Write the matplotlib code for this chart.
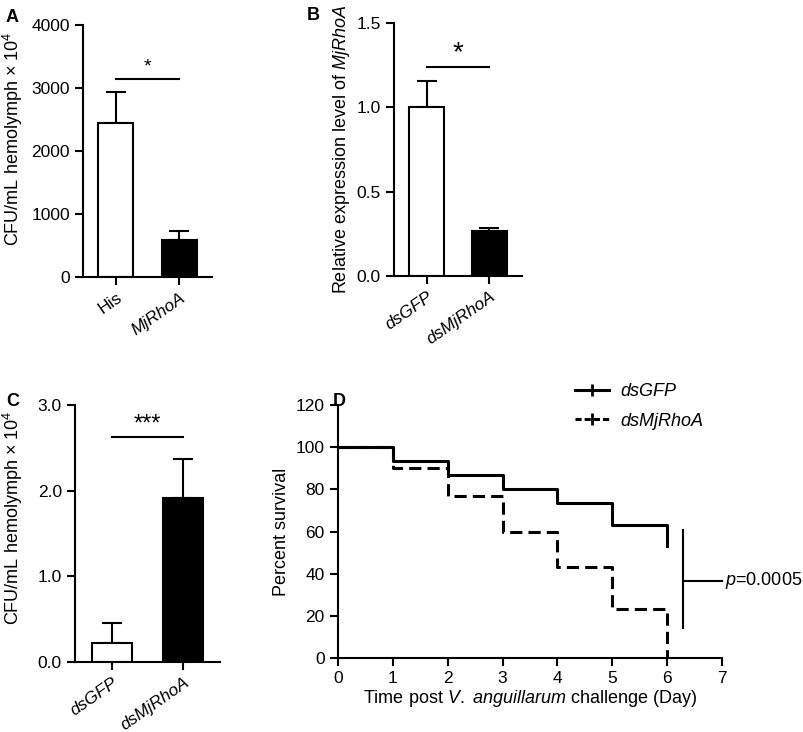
import matplotlib
matplotlib.use('Agg')
import matplotlib.pyplot as plt
from matplotlib.lines import Line2D

plt.rcParams['font.family'] = ['Liberation Sans', 'DejaVu Sans']
plt.rcParams['mathtext.fontset'] = 'custom'
plt.rcParams['mathtext.rm'] = 'Liberation Sans'
plt.rcParams['mathtext.it'] = 'Liberation Sans:italic'
plt.rcParams['font.size'] = 13

# A: bacterial load, His vs MjRhoA
groups_a = ['His', 'MjRhoA']
cfu_a = [2440, 590]
err_a = [500, 145]

# B: relative expression after knockdown
groups_b = ['dsGFP', 'dsMjRhoA']
expr_b = [1.0, 0.265]
err_b = [0.155, 0.018]

# C: bacterial load after knockdown
groups_c = ['dsGFP', 'dsMjRhoA']
cfu_c = [0.225, 1.915]
err_c = [0.235, 0.455]

# D: survival
days = [0, 1, 2, 3, 4, 5, 6]
surv_gfp = [100, 93.3, 86.7, 80, 73.3, 63.3, 53.3]
surv_rhoa = [100, 90, 76.7, 60, 43.3, 23.3, 0]

W, H = 804, 732
fig = plt.figure(figsize=(W / 100, H / 100), dpi=100)


def box(l, t, r, b):
    return [l / W, 1 - b / H, (r - l) / W, (b - t) / H]


def style(ax):
    for s in ['top', 'right']:
        ax.spines[s].set_visible(False)
    for s in ['left', 'bottom']:
        ax.spines[s].set_linewidth(1.5)
    ax.tick_params(width=1.5, length=6, labelsize=12.5, colors='k')


def bar_panel(ax, groups, vals, errs, italic):
    x = range(len(groups))
    ax.bar(x, vals, width=0.55, color=['white', 'black'], edgecolor='black', linewidth=1.5, zorder=2)
    ax.errorbar(x, vals, yerr=[[0] * len(errs), errs], fmt='none', ecolor='black',
                elinewidth=1.5, capsize=7, capthick=1.5, zorder=1)
    ax.set_xlim(-0.52, 1.52)
    ax.set_xticks(list(x))
    labels = ax.set_xticklabels(groups, rotation=35, ha='right', rotation_mode='anchor')
    for lab, it in zip(labels, italic):
        if it:
            lab.set_fontstyle('italic')
    style(ax)


def sig(ax, y, txt, ty, size):
    ax.plot([0, 1], [y, y], color='black', lw=1.5)
    ax.text(0.5, ty, txt, ha='center', va='center', fontsize=size)


# panel A
ax_a = fig.add_axes(box(83, 25, 212, 277))
bar_panel(ax_a, groups_a, cfu_a, err_a, [False, True])
ax_a.set_ylim(0, 4000)
ax_a.set_yticks([0, 1000, 2000, 3000, 4000])
ax_a.set_ylabel('CFU/mL hemolymph × 10$^4$')
ax_a.yaxis.set_label_coords(-0.45, 0.55)
sig(ax_a, 3143, '*', 3330, 14)

# panel B
ax_b = fig.add_axes(box(394, 23, 522, 276))
bar_panel(ax_b, groups_b, expr_b, err_b, [True, True])
ax_b.set_ylim(0, 1.5)
ax_b.set_yticks([0, 0.5, 1.0, 1.5])
ax_b.set_yticklabels(['0.0', '0.5', '1.0', '1.5'])
ax_b.set_ylabel('Relative expression level of $\\it{MjRhoA}$')
ax_b.yaxis.set_label_coords(-0.33, 0.5)
sig(ax_b, 1.24, '*', 1.32, 20)

# panel C
ax_c = fig.add_axes(box(75, 405, 220, 662))
bar_panel(ax_c, groups_c, cfu_c, err_c, [True, True])
ax_c.set_ylim(0, 3.0)
ax_c.set_yticks([0, 1.0, 2.0, 3.0])
ax_c.set_yticklabels(['0.0', '1.0', '2.0', '3.0'])
ax_c.set_ylabel('CFU/mL hemolymph × 10$^4$')
ax_c.yaxis.set_label_coords(-0.345, 0.56)
sig(ax_c, 2.63, '***', 2.77, 17)

# panel D
ax_d = fig.add_axes(box(338, 405, 722, 658))
ax_d.step(days, surv_gfp, where='post', color='black', lw=2.2)
ax_d.step(days, surv_rhoa, where='post', color='black', lw=2.2, ls=(0, (4, 2)))
ax_d.set_xlim(0, 7)
ax_d.set_ylim(0, 120)
ax_d.set_xticks(range(8))
ax_d.set_yticks(range(0, 121, 20))
ax_d.set_xlabel('Time post $\\it{V.}$ $\\it{anguillarum}$ challenge (Day)', labelpad=1)
ax_d.set_ylabel('Percent survival')
style(ax_d)
ax_d.plot([6.29, 6.29], [14.3, 60.5], color='black', lw=1.5, clip_on=False)
ax_d.plot([6.29, 7.0], [36.7, 36.7], color='black', lw=1.5, clip_on=False)
ax_d.text(7.05, 36.7, '$\\it{p}$=0.0005', ha='left', va='center', fontsize=13)

handles = [
    Line2D([], [], color='black', lw=2.2, marker='|', markersize=8, markeredgewidth=2),
    Line2D([], [], color='black', lw=2.2, ls=(0, (2, 1)), marker='|', markersize=8, markeredgewidth=2),
]
leg = fig.legend(handles, ['dsGFP', 'dsMjRhoA'], loc='upper left',
                 bbox_to_anchor=(575 / W, 1 - 383 / H), frameon=False,
                 borderpad=0, borderaxespad=0, labelspacing=0.7,
                 handlelength=1.9, handletextpad=0.6, fontsize=13)
for t in leg.get_texts():
    t.set_fontstyle('italic')

# panel letters
for letter, px, py in [('A', 6, 9), ('B', 307, 7), ('C', 6, 393), ('D', 333, 393)]:
    fig.text(px / W, 1 - py / H, letter, fontsize=13, fontweight='bold', va='top', ha='left')

fig.savefig('out.png', dpi=100)
